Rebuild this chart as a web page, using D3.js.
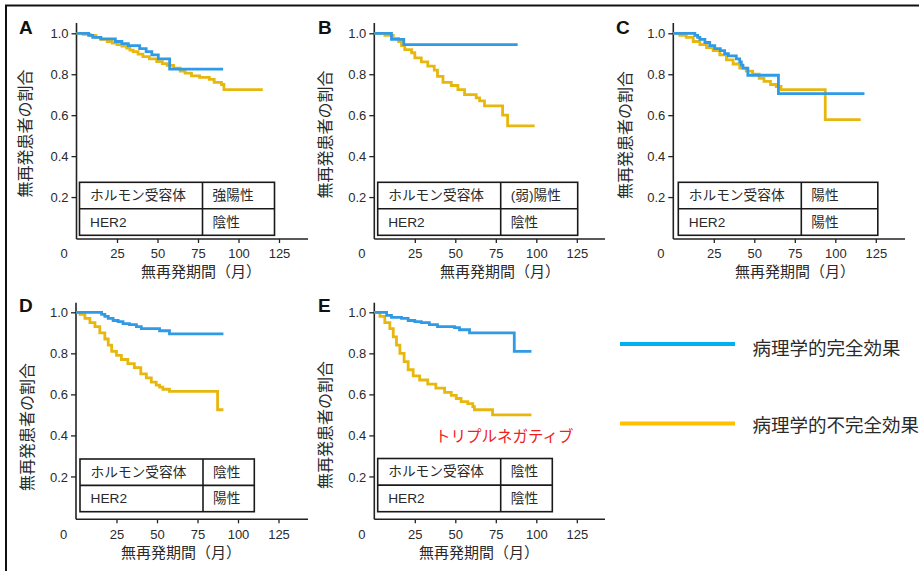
<!DOCTYPE html>
<html>
<head>
<meta charset="utf-8">
<script src="https://cdn.jsdelivr.net/npm/d3@7"></script>
<style>
  html, body { margin: 0; padding: 0; background: #fff; }
  svg { display: block; }
  text { font-family: "Liberation Sans", Arial, "Noto Sans CJK JP", sans-serif; }
</style>
</head>
<body>
<svg id="chart" width="919" height="571"></svg>
<script>
// ---------------- DATA ----------------
const panelLetters = ["A", "B", "C", "D", "E"];
const hormoneStatus = ["強陽性", "(弱)陽性", "陽性", "陰性", "陰性"];
const her2Status = ["陰性", "陰性", "陽性", "陽性", "陰性"];
const xTicks = [0, 25, 50, 75, 100, 125];
const yTicks = [0.2, 0.4, 0.6, 0.8, 1.0];
const seriesNames = ["病理学的完全効果", "病理学的不完全効果"];
const rowLabels = ["ホルモン受容体", "HER2"];
const yTitle = "無再発患者の割合";
const xTitle = "無再発期間（月）";
const tnLabel = "トリプルネガティブ";

// [month, survival] step points (pCR = complete response, nonPcr = incomplete)
const pcrA = [[0,1],[7.5,0.99],[10,0.98],[15,0.973],[24,0.96],[28,0.95],[32,0.94],[39,0.925],[43,0.91],[46.5,0.895],[50.5,0.875],[57.5,0.825],[90.5,0.825]];
const nonPcrA = [[0,1],[4,0.995],[8.5,0.99],[12,0.98],[15,0.97],[19,0.96],[22,0.952],[25,0.945],[28,0.937],[31,0.928],[33,0.918],[35,0.91],[38,0.898],[41,0.886],[45,0.875],[49.5,0.862],[53,0.852],[56,0.843],[60,0.83],[64,0.815],[67,0.805],[71,0.792],[76,0.785],[82,0.775],[85,0.76],[89.5,0.75],[91,0.725],[115,0.725]];

const pcrB = [[0,1],[10.6,0.97],[18.2,0.945],[88.5,0.945]];
const nonPcrB = [[0,1],[6.5,0.99],[11.7,0.975],[15,0.96],[16.8,0.94],[18.8,0.92],[23,0.905],[25,0.88],[29,0.86],[33,0.84],[37,0.82],[39,0.79],[42.4,0.76],[47.5,0.745],[51.6,0.725],[55.7,0.70],[62.9,0.685],[65,0.67],[68,0.645],[79.2,0.60],[82.3,0.548],[99,0.548]];

const pcrC = [[0,1],[13.3,0.99],[15,0.98],[16.4,0.97],[19.5,0.955],[22.5,0.94],[25.6,0.925],[29,0.915],[31.7,0.9],[34,0.89],[38.9,0.875],[41,0.86],[42,0.845],[43,0.83],[46,0.795],[64.9,0.705],[118,0.705]];
const nonPcrC = [[0,1],[4,0.99],[8,0.98],[12.3,0.96],[16.4,0.945],[20.5,0.93],[24.6,0.915],[28.7,0.895],[32.8,0.87],[36.9,0.85],[41,0.83],[45,0.815],[49,0.80],[53,0.78],[56,0.765],[60,0.75],[63.5,0.74],[66.5,0.725],[93.8,0.578],[115.7,0.578]];

const pcrD = [[0,1],[15.8,0.99],[17.8,0.98],[19.9,0.97],[22.9,0.96],[26,0.955],[29,0.945],[33,0.94],[37.3,0.93],[40.3,0.92],[51.6,0.91],[57.7,0.895],[91,0.895]];
const nonPcrD = [[0,1],[2.5,0.99],[5.5,0.97],[8.6,0.95],[11.7,0.93],[14.7,0.90],[17.8,0.87],[19.9,0.84],[22,0.81],[25,0.79],[28,0.77],[32,0.75],[36,0.73],[40,0.70],[43.4,0.68],[46.5,0.66],[49.5,0.645],[51.6,0.635],[53.6,0.625],[57.7,0.615],[87.4,0.525],[91,0.525]];

const pcrE = [[0,1],[7.6,0.985],[10.6,0.975],[16.8,0.97],[20.9,0.96],[25,0.955],[29,0.95],[34,0.94],[39,0.93],[49.5,0.925],[52.6,0.915],[58.8,0.9],[86.4,0.81],[97,0.81]];
const nonPcrE = [[0,1],[3.5,0.98],[6.5,0.95],[9.6,0.92],[11.7,0.88],[13.7,0.84],[15.8,0.80],[18.4,0.76],[20.9,0.72],[24,0.69],[28,0.67],[33,0.65],[38,0.63],[43.4,0.61],[47.5,0.595],[50.6,0.58],[53.6,0.565],[57.7,0.555],[60.8,0.54],[61.8,0.525],[73,0.50],[97,0.50]];

const pcrSeries = [pcrA, pcrB, pcrC, pcrD, pcrE];
const nonPcrSeries = [nonPcrA, nonPcrB, nonPcrC, nonPcrD, nonPcrE];

// ---------------- LAYOUT ----------------
const layout = [
  { ox: 76.5, y1: 33.3, y0: 238, axisY: 239, axisTop: 23, xEnd: 308, tx: 79.5, tw: 195, ty: 182.3, th: 53, lx: 19, ly: 34, ytx: 25, yty: 133.5, xtc: 201, xty: 271 },
  { ox: 374.3, y1: 33.3, y0: 238, axisY: 239, axisTop: 23, xEnd: 605, tx: 377.7, tw: 200, ty: 182.3, th: 53, lx: 318, ly: 34, ytx: 325.5, yty: 134.5, xtc: 500, xty: 271 },
  { ox: 673.3, y1: 33.3, y0: 238, axisY: 239, axisTop: 23, xEnd: 905, tx: 678.3, tw: 199.5, ty: 182.3, th: 53, lx: 616, ly: 34, ytx: 625, yty: 135, xtc: 795, xty: 271 },
  { ox: 76, y1: 312.3, y0: 517.5, axisY: 519.3, axisTop: 302.7, xEnd: 308, tx: 80, tw: 174.3, ty: 459, th: 52.7, lx: 19, ly: 312, ytx: 27, yty: 427, xtc: 181, xty: 552 },
  { ox: 374.3, y1: 312.3, y0: 517.5, axisY: 519.3, axisTop: 302.7, xEnd: 605, tx: 377.7, tw: 174.6, ty: 458.5, th: 53.2, lx: 318, ly: 312, ytx: 325.5, yty: 425, xtc: 479, xty: 552 }
];
const blue = "#2f9ae6";
const yellow = "#e8b70e";
const axisColor = "#222";
const textColor = "#2a2a2a";

const svg = d3.select("#chart");

// Outer frame (top + left)
svg.append("line").attr("x1", 5).attr("x2", 919).attr("y1", 5.5).attr("y2", 5.5).attr("stroke", "#111").attr("stroke-width", 2);
svg.append("line").attr("x1", 6).attr("x2", 6).attr("y1", 5).attr("y2", 571).attr("stroke", "#111").attr("stroke-width", 2);

layout.forEach((L, i) => {
  const g = svg.append("g");
  const pxPerMonth = 40.5 / 25;
  const x = d3.scaleLinear().domain([0, 125]).range([L.ox, L.ox + 125 * pxPerMonth]);
  const y = d3.scaleLinear().domain([0, 1]).range([L.y0, L.y1]);

  // y axis
  const yAxis = d3.axisLeft(y).tickValues(yTicks).tickFormat(d3.format(".1f")).tickSize(5).tickSizeOuter(0);
  const ya = g.append("g").attr("transform", `translate(${L.ox},0)`).call(yAxis);
  ya.select(".domain").remove();
  ya.selectAll("line").attr("stroke", axisColor).attr("stroke-width", 1.3);
  ya.selectAll("text").attr("font-size", 13).attr("fill", textColor).attr("x", -8).attr("dy", "0.35em");
  g.append("line").attr("x1", L.ox).attr("x2", L.ox).attr("y1", L.axisTop).attr("y2", L.axisY)
    .attr("stroke", axisColor).attr("stroke-width", 1.6);

  // x axis
  const xAxis = d3.axisBottom(x).tickValues(xTicks).tickSize(4).tickSizeOuter(0);
  const xa = g.append("g").attr("transform", `translate(0,${L.axisY})`).call(xAxis);
  xa.select(".domain").remove();
  xa.selectAll("line").attr("stroke", axisColor).attr("stroke-width", 1.3);
  xa.selectAll(".tick").filter(d => d === 0).select("line").remove();
  xa.selectAll("text").attr("font-size", 13).attr("fill", textColor).attr("y", 10);
  xa.selectAll(".tick").filter(d => d === 0).select("text").attr("x", -13);
  g.append("line").attr("x1", L.ox).attr("x2", L.xEnd).attr("y1", L.axisY).attr("y2", L.axisY)
    .attr("stroke", axisColor).attr("stroke-width", 1.6);

  // titles
  g.append("text").attr("x", L.xtc).attr("y", L.xty).attr("text-anchor", "middle").attr("dominant-baseline", "central")
    .attr("font-size", 15).attr("fill", textColor).text(xTitle);
  g.append("text").attr("transform", `translate(${L.ytx},${L.yty}) rotate(-90)`).attr("text-anchor", "middle")
    .attr("dominant-baseline", "central").attr("font-size", 16).attr("fill", textColor).text(yTitle);
  g.append("text").attr("x", L.lx).attr("y", L.ly).attr("font-size", 19).attr("font-weight", "bold").attr("fill", "#111")
    .text(panelLetters[i]);

  // curves
  const line = d3.line().x(d => x(d[0])).y(d => y(d[1])).curve(d3.curveStepAfter);
  g.append("path").datum(nonPcrSeries[i]).attr("d", line).attr("fill", "none").attr("stroke", yellow).attr("stroke-width", 2.8);
  g.append("path").datum(pcrSeries[i]).attr("d", line).attr("fill", "none").attr("stroke", blue).attr("stroke-width", 2.8);

  // table
  const tg = g.append("g");
  const colW = 123;
  tg.append("rect").attr("x", L.tx).attr("y", L.ty).attr("width", L.tw).attr("height", L.th)
    .attr("fill", "#fff").attr("stroke", "#1a1a1a").attr("stroke-width", 1.6);
  tg.append("line").attr("x1", L.tx).attr("x2", L.tx + L.tw).attr("y1", L.ty + L.th / 2).attr("y2", L.ty + L.th / 2)
    .attr("stroke", "#1a1a1a").attr("stroke-width", 1.6);
  tg.append("line").attr("x1", L.tx + colW).attr("x2", L.tx + colW).attr("y1", L.ty).attr("y2", L.ty + L.th)
    .attr("stroke", "#1a1a1a").attr("stroke-width", 1.6);
  const vals = [hormoneStatus[i], her2Status[i]];
  rowLabels.forEach((r, k) => {
    const cy = L.ty + L.th / 4 + k * L.th / 2;
    tg.append("text").attr("x", L.tx + 10.5).attr("y", cy).attr("dominant-baseline", "central")
      .attr("font-size", 13.7).attr("fill", textColor).text(r);
    tg.append("text").attr("x", L.tx + colW + 10).attr("y", cy).attr("dominant-baseline", "central")
      .attr("font-size", 13.7).attr("fill", textColor).text(vals[k]);
  });

  if (i === 4) {
    g.append("text").attr("x", 435).attr("y", 436).attr("dominant-baseline", "central")
      .attr("font-size", 15.5).attr("fill", "#f2201c").text(tnLabel);
  }
});

// legend
const legendColors = ["#00b0f0", "#ffc000"];
const legendY = [344, 423.5];
const legendTextY = [348.5, 425];
seriesNames.forEach((name, k) => {
  svg.append("line").attr("x1", 620).attr("x2", 735).attr("y1", legendY[k]).attr("y2", legendY[k])
    .attr("stroke", legendColors[k]).attr("stroke-width", 4);
  svg.append("text").attr("x", 752.5).attr("y", legendTextY[k]).attr("dominant-baseline", "central")
    .attr("font-size", 18.5).attr("fill", textColor).text(name);
});
</script>
</body>
</html>
